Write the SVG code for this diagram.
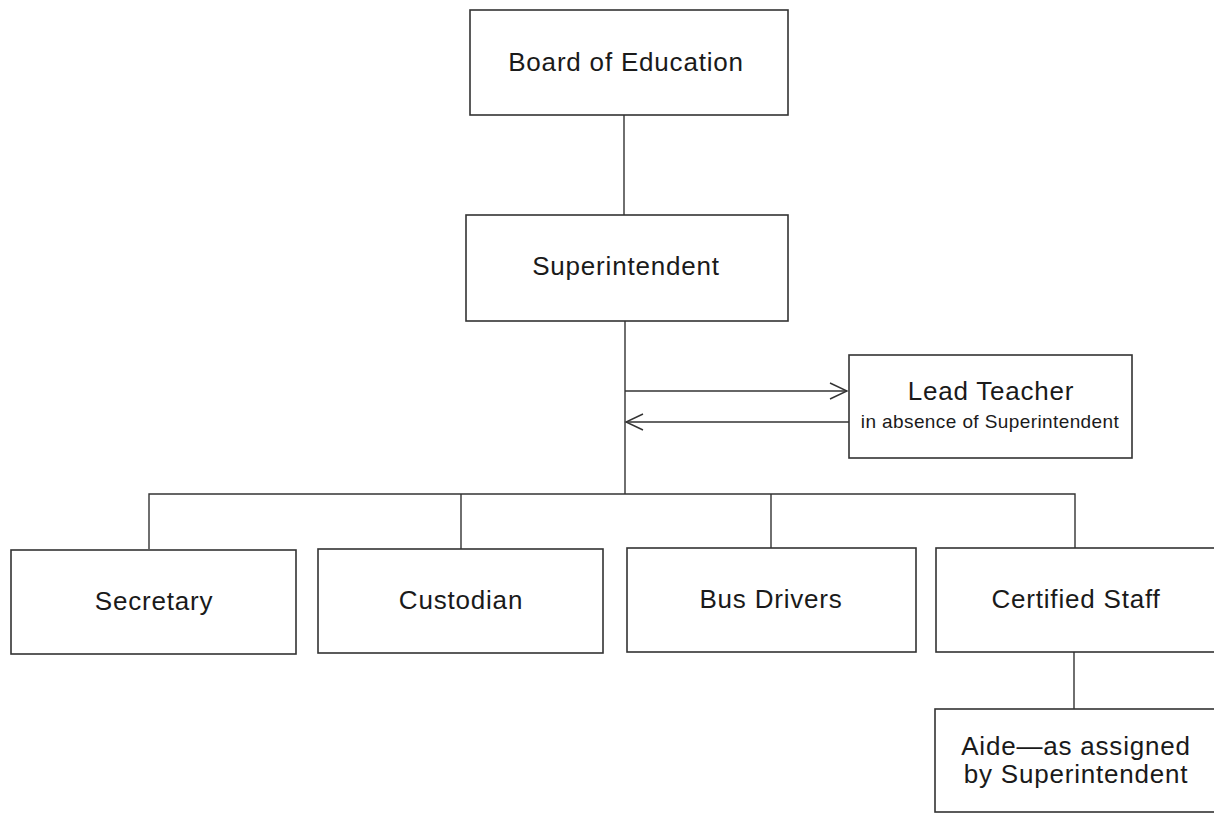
<svg xmlns="http://www.w3.org/2000/svg" width="1214" height="814" viewBox="0 0 1214 814">
<style>
.box{fill:#fff;stroke:#333;stroke-width:1.6}
.ln{fill:none;stroke:#333;stroke-width:1.4}
.t{font-family:"Liberation Sans",Arial,sans-serif;fill:#1a1a1a;text-anchor:middle;font-size:26px;letter-spacing:0.8px}
.s{font-size:19px;letter-spacing:0.4px}
</style>
<defs>
<marker id="ah" viewBox="0 0 20 20" refX="18" refY="10" markerWidth="20" markerHeight="20" markerUnits="userSpaceOnUse" orient="auto">
<path d="M1,2 L18,10 L1,18" fill="none" stroke="#333" stroke-width="1.4"/>
</marker>
</defs>
<rect width="1214" height="814" fill="#fff"/>
<g id="connectors">
<line class="ln" x1="624" y1="115" x2="624" y2="215"/>
<line class="ln" x1="625" y1="321" x2="625" y2="494"/>
<line class="ln" x1="625" y1="391" x2="847" y2="391" marker-end="url(#ah)"/>
<line class="ln" x1="849" y1="422" x2="626" y2="422" marker-end="url(#ah)"/>
<polyline class="ln" points="149,549 149,494 1075,494 1075,548"/>
<line class="ln" x1="461" y1="494" x2="461" y2="549"/>
<line class="ln" x1="771" y1="494" x2="771" y2="548"/>
<line class="ln" x1="1074" y1="652" x2="1074" y2="709"/>
</g>
<g id="board">
<rect class="box" x="470" y="10" width="318" height="105"/>
<text class="t" x="626" y="71">Board of Education</text>
</g>
<g id="superintendent">
<rect class="box" x="466" y="215" width="322" height="106"/>
<text class="t" x="626" y="275">Superintendent</text>
</g>
<g id="lead-teacher">
<rect class="box" x="849" y="355" width="283" height="103"/>
<text class="t" x="991" y="400">Lead Teacher</text>
<text class="t s" x="990" y="428">in absence of Superintendent</text>
</g>
<g id="secretary">
<rect class="box" x="11" y="550" width="285" height="104"/>
<text class="t" x="154" y="610">Secretary</text>
</g>
<g id="custodian">
<rect class="box" x="318" y="549" width="285" height="104"/>
<text class="t" x="461" y="609">Custodian</text>
</g>
<g id="bus-drivers">
<rect class="box" x="627" y="548" width="289" height="104"/>
<text class="t" x="771" y="608">Bus Drivers</text>
</g>
<g id="certified-staff">
<rect class="box" x="936" y="548" width="290" height="104"/>
<text class="t" x="1076" y="608">Certified Staff</text>
</g>
<g id="aide">
<rect class="box" x="935" y="709" width="290" height="103"/>
<text class="t" x="1076" y="755">Aide—as assigned</text>
<text class="t" x="1076" y="783">by Superintendent</text>
</g>
</svg>
